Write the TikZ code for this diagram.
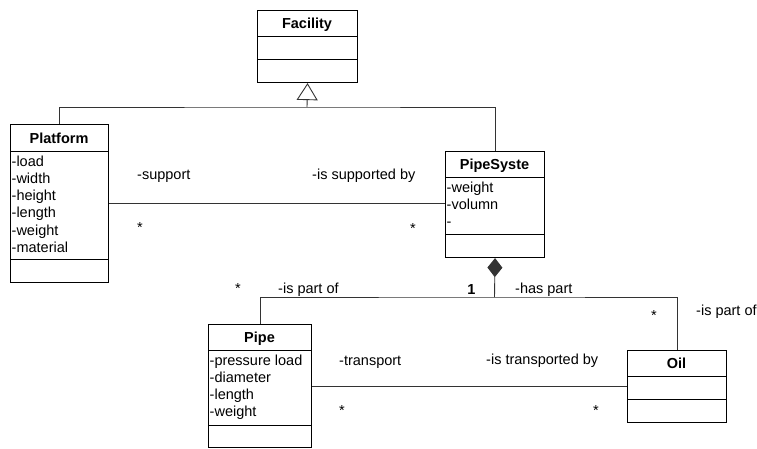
\documentclass[tikz,border=0pt]{standalone}
\usepackage{fontspec}
\setmainfont{Liberation Sans}
\usetikzlibrary{arrows.meta}
\begin{document}
\begin{tikzpicture}[x=1pt,y=-1pt,
  box/.style={draw=black, line width=1.1pt, inner sep=0pt, anchor=north west},
  sep/.style={draw=black, line width=1pt},
  conn/.style={draw=black!80, line width=0.9pt},
  txt/.style={inner sep=0pt, font=\fontsize{14.5}{17.3}\selectfont},
  ttl/.style={txt, anchor=base, font=\fontsize{14.5}{17.3}\selectfont\bfseries},
  attr/.style={txt, anchor=base west},
  lbl/.style={txt, anchor=base west},
  mult/.style={txt, anchor=base}]
\useasboundingbox (0,0) rectangle (757,448);

% Facility
\node[box, minimum width=100pt, minimum height=72pt] (facility) at (257,10) {};
\draw[sep] (257,36) -- (357,36) (257,59) -- (357,59);
\node[ttl] (facilityT) at (307,28.5) {Facility};

% Platform
\node[box, minimum width=98pt, minimum height=158pt] (platform) at (10,124) {};
\draw[sep] (10,151) -- (108,151) (10,259) -- (108,259);
\node[ttl] (platformT) at (59,143) {Platform};
\foreach \t [count=\i from 0] in {-load,-width,-height,-length,-weight,-material}
  \node[attr] (platformA\i) at (11.5,166+17.3*\i) {\t};

% PipeSyste
\node[box, minimum width=99pt, minimum height=106pt] (pipesys) at (445,151) {};
\draw[sep] (445,177) -- (544,177) (445,234) -- (544,234);
\node[ttl] (pipesysT) at (494.5,169.5) {PipeSyste};
\foreach \t [count=\i from 0] in {-weight,-volumn,-}
  \node[attr] (pipesysA\i) at (446.5,192+17.3*\i) {\t};

% Pipe
\node[box, minimum width=103pt, minimum height=123pt] (pipe) at (208,324) {};
\draw[sep] (208,350) -- (311,350) (208,425) -- (311,425);
\node[ttl] (pipeT) at (259.5,342.5) {Pipe};
\foreach \t [count=\i from 0] in {-pressure load,-diameter,-length,-weight}
  \node[attr] (pipeA\i) at (209.5,365+17.3*\i) {\t};

% Oil
\node[box, minimum width=99pt, minimum height=72pt] (oil) at (627,350) {};
\draw[sep] (627,376) -- (726,376) (627,399) -- (726,399);
\node[ttl] (oilT) at (676.5,368.5) {Oil};

% Generalization
\coordinate (genJ) at (307,107);
\draw[conn] (platform.north) |- (genJ) -| (pipesys.north);
\draw[conn, -{Triangle[length=17pt, width=21pt, fill=white]}] (genJ) -- (facility.south);

% Support association
\draw[conn] (platform.east) -- (platform.east -| pipesys.west);

% Composition
\coordinate (compJ) at (494.5,297);
\draw[conn, {Diamond[length=19pt, width=15pt]}-] (pipesys.south) -- (compJ);
\draw[conn] (pipe.north) |- (compJ) -| (oil.north);

% Transport association
\draw[conn] (pipe.east) -- (pipe.east -| oil.west);

% Labels
\node[lbl] (l1) at (137,179) {-support};
\node[lbl] (l2) at (312,179) {-is supported by};
\node[mult] (m1) at (140,232.5) {*};
\node[mult] (m2) at (413,233.5) {*};
\node[mult] (m3) at (238,293.5) {*};
\node[lbl] (l3) at (278,293.5) {-is part of};
\node[mult, font=\fontsize{14.5}{17.3}\selectfont\bfseries] (m4) at (471.5,294) {1};
\node[lbl] (l4) at (515,293.5) {-has part};
\node[mult] (m5) at (654,320.5) {*};
\node[lbl] (l5) at (696,315.5) {-is part of};
\node[lbl] (l6) at (339,365) {-transport};
\node[lbl] (l7) at (486,364.5) {-is transported by};
\node[mult] (m6) at (342,415.5) {*};
\node[mult] (m7) at (596,415.5) {*};
\end{tikzpicture}
\end{document}
